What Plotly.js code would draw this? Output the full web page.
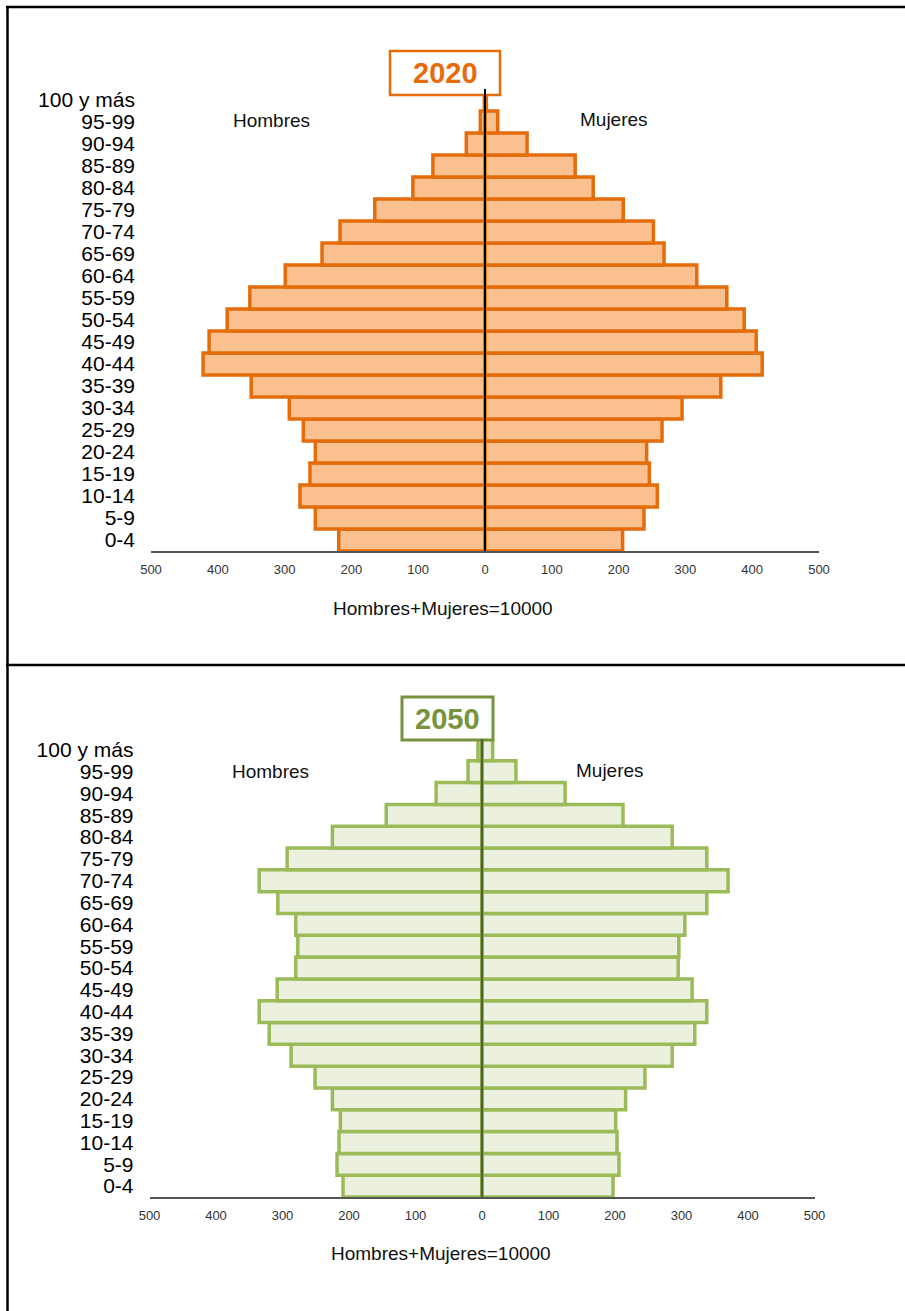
<!DOCTYPE html>
<html>
<head>
<meta charset="utf-8">
<script src="https://cdn.plot.ly/plotly-3.0.1.min.js"></script>
<style>
  html, body { margin: 0; padding: 0; background: #fff; }
  #chart { width: 905px; height: 1311px; }
</style>
</head>
<body>
<div id="chart"></div>
<script>
// Age groups, youngest first (bottom of each pyramid)
const ageGroups = ["0-4", "5-9", "10-14", "15-19", "20-24", "25-29", "30-34", "35-39",
  "40-44", "45-49", "50-54", "55-59", "60-64", "65-69", "70-74", "75-79",
  "80-84", "85-89", "90-94", "95-99", "100 y más"];

// Population per 10000 inhabitants, 2020
const hombres2020 = [219, 254, 277, 262, 254, 272, 293, 350, 422, 413, 386, 352,
  299, 244, 217, 165, 108, 78, 28, 7, 1];
const mujeres2020 = [206, 238, 258, 246, 242, 265, 295, 353, 415, 406, 388, 362,
  317, 268, 252, 207, 162, 135, 63, 19, 2];

// Population per 10000 inhabitants, 2050
const hombres2050 = [209, 218, 215, 213, 225, 251, 287, 320, 335, 308, 280, 277,
  280, 307, 335, 293, 225, 144, 69, 21, 6];
const mujeres2050 = [197, 206, 203, 201, 216, 245, 286, 320, 338, 316, 295, 296,
  305, 338, 370, 338, 286, 212, 125, 51, 16];

// Axis ticks shared by both pyramids
const tickValues = [-500, -400, -300, -200, -100, 0, 100, 200, 300, 400, 500];
const tickLabels = ["500", "400", "300", "200", "100", "0", "100", "200", "300", "400", "500"];

const W = 905, H = 1311;
const px = x => x / W;          // pixel -> paper x
const py = y => 1 - y / H;      // pixel -> paper y
const FONT = "Liberation Sans, Arial, sans-serif";

const neg = arr => arr.map(v => -v);

const orange = { line: "#E46C0A", fill: "#FAC090" };
const green = { line: "#9BBB59", fill: "#EBF1DE", dark: "#77933C", axis: "#4F6228" };

function barTrace(values, colors, xa, ya, name) {
  return {
    type: "bar", orientation: "h", name: name,
    x: values, y: ageGroups, xaxis: xa, yaxis: ya,
    marker: { color: colors.fill, line: { color: colors.line, width: 3.5 } },
    hoverinfo: "skip", showlegend: false
  };
}

const data = [
  barTrace(neg(hombres2020), orange, "x", "y", "Hombres 2020"),
  barTrace(mujeres2020, orange, "x", "y", "Mujeres 2020"),
  barTrace(neg(hombres2050), green, "x2", "y2", "Hombres 2050"),
  barTrace(mujeres2050, green, "x2", "y2", "Mujeres 2050")
];

function xAxis(left, right, anchor) {
  return {
    domain: [px(left), px(right)], range: [-500, 500], anchor: anchor,
    tickmode: "array", tickvals: tickValues, ticktext: tickLabels, ticks: "", ticklabelstandoff: 6,
    tickfont: { family: FONT, size: 13, color: "#333" },
    showgrid: false, zeroline: false, showline: true, linecolor: "#555", linewidth: 1.5,
    fixedrange: true
  };
}
function yAxis(top, bottom, anchor) {
  return {
    domain: [py(bottom), py(top)], range: [-0.5, 20.5], anchor: anchor,
    type: "category", categoryorder: "array", categoryarray: ageGroups,
    tickmode: "array", tickvals: ageGroups, ticktext: ageGroups,
    ticks: "", ticklabelstandoff: 15,
    tickfont: { family: FONT, size: 21, color: "#000" },
    showgrid: false, zeroline: false, showline: false, fixedrange: true
  };
}

function text(t, x, y, size, color, bold) {
  return {
    xref: "paper", yref: "paper", x: px(x), y: py(y),
    xanchor: "center", yanchor: "middle", showarrow: false,
    text: bold ? "<b>" + t + "</b>" : t,
    font: { family: FONT, size: size, color: color }
  };
}

const layout = {
  width: W, height: H,
  margin: { l: 0, r: 0, t: 0, b: 0 },
  paper_bgcolor: "#fff", plot_bgcolor: "rgba(0,0,0,0)",
  barmode: "relative", bargap: 0,
  xaxis: xAxis(151, 819, "y"),
  yaxis: yAxis(89, 551, "x"),
  xaxis2: xAxis(149.5, 814.5, "y2"),
  yaxis2: yAxis(739, 1197, "x2"),
  shapes: [
    // frame
    { type: "line", xref: "paper", yref: "paper", x0: px(6), x1: px(905), y0: py(7), y1: py(7),
      line: { color: "#000", width: 2.5 } },
    { type: "line", xref: "paper", yref: "paper", x0: px(7.5), x1: px(7.5), y0: py(6), y1: py(1311),
      line: { color: "#000", width: 2.5 } },
    { type: "line", xref: "paper", yref: "paper", x0: px(6), x1: px(905), y0: py(665), y1: py(665),
      line: { color: "#000", width: 2.5 } },
    // year boxes
    { type: "rect", xref: "paper", yref: "paper", x0: px(390), x1: px(500), y0: py(51), y1: py(95),
      fillcolor: "#fff", line: { color: orange.line, width: 2.5 }, layer: "above" },
    { type: "rect", xref: "paper", yref: "paper", x0: px(402), x1: px(493), y0: py(697), y1: py(740),
      fillcolor: "#fff", line: { color: green.dark, width: 3 }, layer: "above" },
    // centre lines
    { type: "line", xref: "x", yref: "paper", x0: 0, x1: 0, y0: py(89), y1: py(551),
      line: { color: "#000", width: 2 }, layer: "above" },
    { type: "line", xref: "x2", yref: "paper", x0: 0, x1: 0, y0: py(739), y1: py(1197),
      line: { color: green.axis, width: 2.5 }, layer: "above" }
  ],
  annotations: [
    text("2020", 445, 73, 29, orange.line, true),
    text("Hombres", 271, 120, 19, "#111", false),
    text("Mujeres", 614, 119, 19, "#111", false),
    text("Hombres+Mujeres=10000", 443, 609, 19, "#111", false),
    text("2050", 447, 719, 29, green.dark, true),
    text("Hombres", 270, 771, 19, "#111", false),
    text("Mujeres", 610, 770, 19, "#111", false),
    text("Hombres+Mujeres=10000", 441, 1253, 19, "#111", false)
  ]
};

Plotly.newPlot("chart", data, layout, { displayModeBar: false, staticPlot: true });
</script>
</body>
</html>
